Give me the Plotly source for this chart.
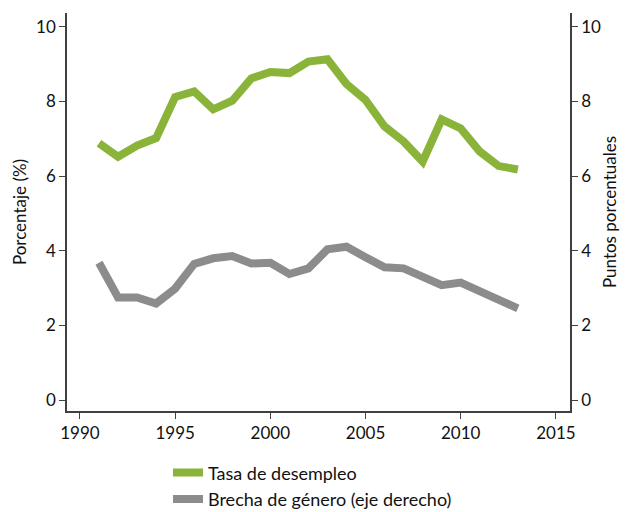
import plotly.graph_objects as go

years = list(range(1991, 2014))
tasa_desempleo = [6.88, 6.52, 6.82, 7.02, 8.12, 8.27, 7.79, 8.02, 8.62, 8.79, 8.76, 9.07,
                  9.13, 8.47, 8.04, 7.33, 6.93, 6.39, 7.52, 7.28, 6.66, 6.27, 6.18]
brecha_genero = [3.68, 2.75, 2.75, 2.59, 2.99, 3.65, 3.80, 3.86, 3.66, 3.68, 3.38, 3.53,
                 4.04, 4.11, 3.83, 3.56, 3.53, 3.29, 3.08, 3.15, 2.93, 2.70, 2.46]
x_ticks = [1990, 1995, 2000, 2005, 2010, 2015]
y_ticks = [0, 2, 4, 6, 8, 10]

FONT = "Lato"
AX = "#404040"

fig = go.Figure()
fig.add_trace(go.Scatter(x=years, y=tasa_desempleo, mode="lines", name="Tasa de desempleo",
                         line=dict(color="#8AB33A", width=8), legendgroup="a"))
fig.add_trace(go.Scatter(x=years, y=brecha_genero, mode="lines", name="Brecha de género (eje derecho)",
                         line=dict(color="#8C8C8C", width=8), yaxis="y2", legendgroup="b"))

axis_common = dict(showgrid=False, zeroline=False, showline=True, linecolor=AX, linewidth=1.5,
                   ticks="outside", ticklen=6, tickcolor=AX, tickfont=dict(size=17, color="#111"),
                   automargin=False)

fig.update_layout(
    width=633, height=512,
    margin=dict(l=59, r=71, t=5, b=109, autoexpand=False),
    plot_bgcolor="white", paper_bgcolor="white",
    font=dict(family=FONT, size=17, color="#111"),
    xaxis=dict(range=[1989.32, 2015.74], tickvals=x_ticks, **axis_common),
    yaxis=dict(range=[-0.29, 10.37], tickvals=y_ticks,
               title=dict(text="Porcentaje (%)", font=dict(size=17), standoff=5), **axis_common),
    yaxis2=dict(range=[-0.29, 10.37], tickvals=y_ticks, overlaying="y", side="right",
                title=dict(text="Puntos porcentuales", font=dict(size=17), standoff=4), **axis_common),
    legend=dict(x=0.2008, y=-0.109, xanchor="left", yanchor="top", orientation="v",
                traceorder="grouped", tracegroupgap=0, font=dict(size=18), bgcolor="rgba(0,0,0,0)"),
)

fig.write_html("out.html")
